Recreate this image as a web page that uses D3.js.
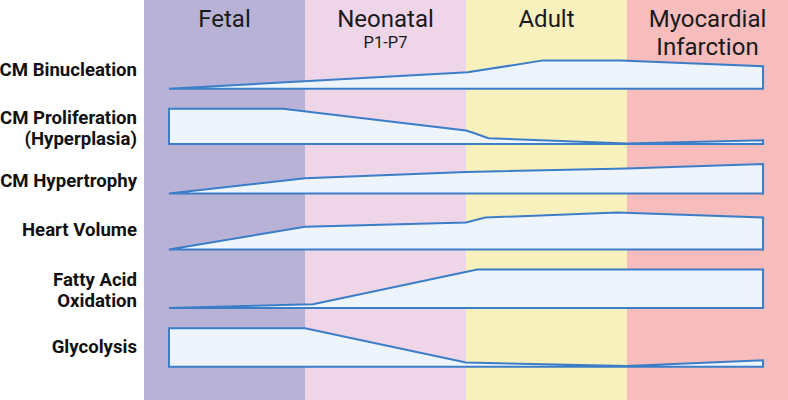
<!DOCTYPE html>
<html><head><meta charset="utf-8">
<script src="https://cdn.jsdelivr.net/npm/d3@7"></script>
<style>html,body{margin:0;padding:0;background:#fff;}svg{display:block;font-family:Roboto,"Noto Sans",sans-serif;}</style>
</head><body>
<svg id="chart" width="788" height="400"></svg>
<script>
// ---- data ----
const stages = ["Fetal", "Neonatal", "Adult", "Myocardial Infarction"];
const stageSubLabels = ["", "P1-P7", "", ""];
const rowLabels = ["CM Binucleation", "CM Proliferation (Hyperplasia)", "CM Hypertrophy", "Heart Volume", "Fatty Acid Oxidation", "Glycolysis"];
// profiles: [stage position (0..4), relative level 0..100]
const binucleation = [[0.155,0],[2.01,43],[2.48,74],[2.96,74],[3.845,59]];
const proliferation = [[0.155,92],[0.863,92],[2.0,35],[2.04,30],[2.14,15],[3.0,1],[3.845,10]];
const hypertrophy = [[0.155,0],[1.0,40],[2.0,56],[3.0,65],[3.845,77]];
const heartVolume = [[0.155,0],[1.0,59],[2.0,70],[2.12,83],[2.94,96],[3.845,83]];
const fattyAcid = [[0.155,0],[1.05,10],[2.07,100],[3.845,100]];
const glycolysis = [[0.155,100],[1.0,100],[2.0,11],[3.0,2],[3.845,17]];
const series = [binucleation, proliferation, hypertrophy, heartVolume, fattyAcid, glycolysis];

// ---- layout / style ----
const W = 788, H = 400;
const stageColors = ["#b8b3d6", "#efd5e8", "#f8f0bd", "#f7bcbc"];
const rowBaselines = [88.8, 144, 193.5, 249.4, 308, 366.7];
const labelLines = [[["CM Binucleation"],[76]],[["CM Proliferation","(Hyperplasia)"],[124,144.5]],[["CM Hypertrophy"],[187]],[["Heart Volume"],[236]],[["Fatty Acid","Oxidation"],[286,307]],[["Glycolysis"],[353]]];

const svg = d3.select("#chart");
const x = d3.scaleLinear().domain([0, 4]).range([144, 788]);
const h = d3.scaleLinear().domain([0, 100]).range([0, 38.4]);

// backgrounds
svg.selectAll("rect.stage").data(stages).join("rect")
  .attr("class","stage")
  .attr("x",(d,i)=>x(i)).attr("y",0)
  .attr("width",(d,i)=>x(i+1)-x(i)).attr("height",H)
  .attr("fill",(d,i)=>stageColors[i]);

// stage titles
const titleG = svg.append("g").attr("fill","#1a1a1a").attr("text-anchor","middle");
stages.forEach((s,i)=>{
  const cx = (x(i)+x(i+1))/2;
  const t = titleG.append("text").attr("x",cx).attr("y",27).attr("font-size",24);
  if (s === "Myocardial Infarction") {
    t.append("tspan").attr("x",cx).attr("y",27).text("Myocardial");
    t.append("tspan").attr("x",cx).attr("y",55).text("Infarction");
  } else {
    t.text(s);
  }
  if (stageSubLabels[i]) {
    titleG.append("text").attr("x",cx).attr("y",48).attr("font-size",16.5).text(stageSubLabels[i]);
  }
});

// row labels
const lg = svg.append("g").attr("text-anchor","end").attr("font-weight","bold").attr("font-size",18.6).attr("fill","#111");
rowLabels.forEach((r,i)=>{
  const [lines, ys] = labelLines[i];
  lines.forEach((ln,j)=>lg.append("text").attr("x",137).attr("y",ys[j]).text(ln));
});

// profile areas
series.forEach((data,i)=>{
  const base = rowBaselines[i];
  const area = d3.area()
    .x(d=>x(d[0]))
    .y0(base)
    .y1(d=>base - h(d[1]))
    .curve(d3.curveLinear);
  svg.append("path").datum(data)
    .attr("d", area)
    .attr("fill","#edf4fc")
    .attr("stroke","#3b7dc7")
    .attr("stroke-width",2)
    .attr("stroke-linejoin","miter");
});
</script>
</body></html>
